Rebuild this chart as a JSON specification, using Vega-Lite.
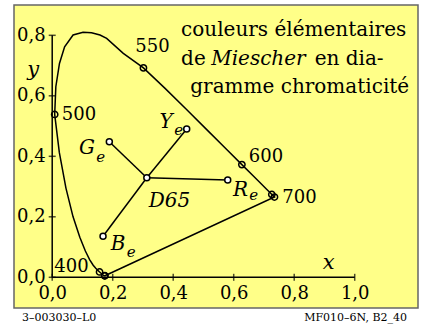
{
  "$schema": "https://vega.github.io/schema/vega-lite/v6.json",
  "autosize": {"type": "none"},
  "padding": {"left": 14, "top": 5, "right": 6, "bottom": 23},
  "width": 404,
  "height": 303,
  "background": "white",
  "config": {
    "view": {"fill": "#ffff88", "stroke": "#666666", "strokeWidth": 1.5},
    "text": {"font": "DejaVu Serif", "color": "black"}
  },
  "datasets": {
    "locus": [
      {"i": 1, "x": 0.1741, "y": 0.0050}, {"i": 2, "x": 0.1733, "y": 0.0048}, {"i": 3, "x": 0.1726, "y": 0.0048},
      {"i": 4, "x": 0.1714, "y": 0.0051}, {"i": 5, "x": 0.1689, "y": 0.0069}, {"i": 6, "x": 0.1644, "y": 0.0109},
      {"i": 7, "x": 0.1566, "y": 0.0177}, {"i": 8, "x": 0.1510, "y": 0.0227}, {"i": 9, "x": 0.1440, "y": 0.0297},
      {"i": 10, "x": 0.1355, "y": 0.0399}, {"i": 11, "x": 0.1241, "y": 0.0578}, {"i": 12, "x": 0.1096, "y": 0.0868},
      {"i": 13, "x": 0.0913, "y": 0.1327}, {"i": 14, "x": 0.0687, "y": 0.2007}, {"i": 15, "x": 0.0454, "y": 0.2950},
      {"i": 16, "x": 0.0235, "y": 0.4127}, {"i": 17, "x": 0.0082, "y": 0.5384}, {"i": 18, "x": 0.0120, "y": 0.630},
      {"i": 19, "x": 0.0240, "y": 0.707}, {"i": 20, "x": 0.0410, "y": 0.762}, {"i": 21, "x": 0.0690, "y": 0.801},
      {"i": 22, "x": 0.1020, "y": 0.810}, {"i": 23, "x": 0.1300, "y": 0.8085}, {"i": 24, "x": 0.1580, "y": 0.801},
      {"i": 25, "x": 0.1800, "y": 0.790}, {"i": 26, "x": 0.2350, "y": 0.7405}, {"i": 27, "x": 0.3016, "y": 0.6923},
      {"i": 28, "x": 0.3731, "y": 0.6245}, {"i": 29, "x": 0.4441, "y": 0.5547}, {"i": 30, "x": 0.5125, "y": 0.4866},
      {"i": 31, "x": 0.5752, "y": 0.4242}, {"i": 32, "x": 0.6270, "y": 0.3725}, {"i": 33, "x": 0.6658, "y": 0.3340},
      {"i": 34, "x": 0.6915, "y": 0.3083}, {"i": 35, "x": 0.7079, "y": 0.2920}, {"i": 36, "x": 0.7190, "y": 0.2809},
      {"i": 37, "x": 0.7260, "y": 0.2740}, {"i": 38, "x": 0.7300, "y": 0.2700}, {"i": 39, "x": 0.7334, "y": 0.2666},
      {"i": 40, "x": 0.7347, "y": 0.2653}, {"i": 41, "x": 0.1741, "y": 0.0050}
    ],
    "rules": [
      {"x": 0, "y": 0, "x2": 1, "y2": 0},
      {"x": 0, "y": 0, "x2": 0, "y2": 0.8},
      {"x": 0.3127, "y": 0.3290, "x2": 0.1888, "y2": 0.4483},
      {"x": 0.3127, "y": 0.3290, "x2": 0.4446, "y2": 0.4902},
      {"x": 0.3127, "y": 0.3290, "x2": 0.5802, "y2": 0.3217},
      {"x": 0.3127, "y": 0.3290, "x2": 0.1680, "y2": 0.1355}
    ],
    "xticks": [
      {"x": 0.0, "y": 0}, {"x": 0.2, "y": 0}, {"x": 0.4, "y": 0},
      {"x": 0.6, "y": 0}, {"x": 0.8, "y": 0}, {"x": 1.0, "y": 0}
    ],
    "yticks": [
      {"x": 0, "y": 0.0}, {"x": 0, "y": 0.2}, {"x": 0, "y": 0.4},
      {"x": 0, "y": 0.6}, {"x": 0, "y": 0.8}
    ],
    "spectral": [
      {"nm": 380, "x": 0.1741, "y": 0.0050}, {"nm": 400, "x": 0.1733, "y": 0.0048},
      {"nm": 450, "x": 0.1566, "y": 0.0177}, {"nm": 500, "x": 0.0082, "y": 0.5384},
      {"nm": 550, "x": 0.3016, "y": 0.6923}, {"nm": 600, "x": 0.6270, "y": 0.3725},
      {"nm": 650, "x": 0.7260, "y": 0.2740}, {"nm": 700, "x": 0.7347, "y": 0.2653}
    ],
    "elementary": [
      {"name": "D65", "x": 0.3127, "y": 0.3290}, {"name": "Ge", "x": 0.1888, "y": 0.4483},
      {"name": "Ye", "x": 0.4446, "y": 0.4902}, {"name": "Re", "x": 0.5802, "y": 0.3217},
      {"name": "Be", "x": 0.1680, "y": 0.1355}
    ],
    "nmlabels": [
      {"t": "400", "x": 0.0638, "y": 0.034}, {"t": "500", "x": 0.0886, "y": 0.5365},
      {"t": "550", "x": 0.3316, "y": 0.763}, {"t": "600", "x": 0.7068, "y": 0.3977},
      {"t": "700", "x": 0.8175, "y": 0.2638}
    ],
    "capitals": [
      {"t": "G", "x": 0.1150, "y": 0.4258}, {"t": "Y", "x": 0.3762, "y": 0.515},
      {"t": "R", "x": 0.6225, "y": 0.2886}, {"t": "B", "x": 0.2175, "y": 0.1117},
      {"t": "D65", "x": 0.3878, "y": 0.2506}
    ],
    "subs": [
      {"t": "e", "x": 0.1600, "y": 0.3977}, {"t": "e", "x": 0.4180, "y": 0.487},
      {"t": "e", "x": 0.6660, "y": 0.272}, {"t": "e", "x": 0.2610, "y": 0.0836}
    ],
    "axtitles": [
      {"t": "x", "x": 0.914, "y": 0.0473}, {"t": "y", "x": -0.0625, "y": 0.685}
    ],
    "titleleft": [
      {"t": "couleurs élémentaires", "x": 0.426, "y": 0.797},
      {"t": "de", "x": 0.426, "y": 0.703},
      {"t": "en dia-", "x": 0.8675, "y": 0.703}
    ],
    "titleitalic": [
      {"t": "Miescher", "x": 0.5255, "y": 0.703}
    ],
    "titleright": [
      {"t": "gramme chromaticité", "x": 1.180, "y": 0.609}
    ],
    "footleft": [
      {"t": "3–003030–L0", "x": -0.0998, "y": -0.1461}
    ],
    "footright": [
      {"t": "MF010–6N, B2_40", "x": 1.1729, "y": -0.1461}
    ]
  },
  "encoding": {
    "x": {
      "field": "x", "type": "quantitative",
      "scale": {"domain": [-0.1263, 1.2092], "nice": false, "zero": false},
      "axis": {
        "title": null, "values": [0, 0.2, 0.4, 0.6, 0.8, 1.0], "offset": -30.7,
        "domain": false, "ticks": false, "tickSize": 0, "grid": false,
        "labelExpr": "replace(format(datum.value, '.1f'), '.', ',')",
        "labelFont": "DejaVu Serif", "labelFontSize": 18, "labelColor": "black",
        "labelPadding": 7, "labelFlush": false, "labelOverlap": false
      }
    },
    "y": {
      "field": "y", "type": "quantitative",
      "scale": {"domain": [-0.1015, 0.9002], "nice": false, "zero": false},
      "axis": {
        "title": null, "values": [0, 0.2, 0.4, 0.6, 0.8], "offset": -38.2,
        "domain": false, "ticks": false, "tickSize": 0, "grid": false,
        "labelExpr": "replace(format(datum.value, '.1f'), '.', ',')",
        "labelFont": "DejaVu Serif", "labelFontSize": 18, "labelColor": "black",
        "labelPadding": 7, "labelFlush": false, "labelOverlap": false
      }
    }
  },
  "layer": [
    {
      "data": {"name": "locus"},
      "mark": {"type": "line", "color": "black", "strokeWidth": 1.5},
      "encoding": {"order": {"field": "i", "type": "quantitative"}}
    },
    {
      "data": {"name": "rules"},
      "mark": {"type": "rule", "color": "black", "strokeWidth": 1.5},
      "encoding": {"x2": {"field": "x2"}, "y2": {"field": "y2"}}
    },
    {
      "data": {"name": "xticks"},
      "mark": {"type": "tick", "orient": "vertical", "color": "black", "size": 7, "thickness": 1.5},
      "encoding": {}
    },
    {
      "data": {"name": "yticks"},
      "mark": {"type": "tick", "orient": "horizontal", "color": "black", "size": 7, "thickness": 1.5},
      "encoding": {}
    },
    {
      "data": {"name": "spectral"},
      "mark": {"type": "point", "shape": "circle", "filled": false, "stroke": "black", "strokeWidth": 1.5, "size": 40, "opacity": 1},
      "encoding": {}
    },
    {
      "data": {"name": "elementary"},
      "mark": {"type": "point", "shape": "circle", "filled": true, "fill": "white", "stroke": "black", "strokeWidth": 1.5, "size": 36, "opacity": 1},
      "encoding": {}
    },
    {
      "data": {"name": "nmlabels"},
      "mark": {"type": "text", "fontSize": 18, "align": "center", "baseline": "middle"},
      "encoding": {"text": {"field": "t"}}
    },
    {
      "data": {"name": "capitals"},
      "mark": {"type": "text", "fontSize": 20, "fontStyle": "italic", "align": "center", "baseline": "middle"},
      "encoding": {"text": {"field": "t"}}
    },
    {
      "data": {"name": "subs"},
      "mark": {"type": "text", "fontSize": 15, "fontStyle": "italic", "align": "center", "baseline": "middle"},
      "encoding": {"text": {"field": "t"}}
    },
    {
      "data": {"name": "axtitles"},
      "mark": {"type": "text", "fontSize": 21, "fontStyle": "italic", "align": "center", "baseline": "middle"},
      "encoding": {"text": {"field": "t"}}
    },
    {
      "data": {"name": "titleleft"},
      "mark": {"type": "text", "fontSize": 20, "align": "left", "baseline": "alphabetic"},
      "encoding": {"text": {"field": "t"}}
    },
    {
      "data": {"name": "titleitalic"},
      "mark": {"type": "text", "fontSize": 20, "fontStyle": "italic", "align": "left", "baseline": "alphabetic"},
      "encoding": {"text": {"field": "t"}}
    },
    {
      "data": {"name": "titleright"},
      "mark": {"type": "text", "fontSize": 20, "align": "right", "baseline": "alphabetic"},
      "encoding": {"text": {"field": "t"}}
    },
    {
      "data": {"name": "footleft"},
      "mark": {"type": "text", "fontSize": 11, "align": "left", "baseline": "alphabetic"},
      "encoding": {"text": {"field": "t"}}
    },
    {
      "data": {"name": "footright"},
      "mark": {"type": "text", "fontSize": 11, "align": "right", "baseline": "alphabetic"},
      "encoding": {"text": {"field": "t"}}
    }
  ]
}
